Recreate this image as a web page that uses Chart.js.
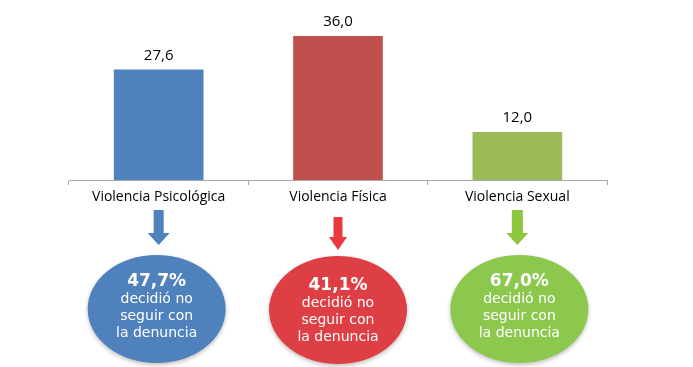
<!DOCTYPE html>
<html>
<head>
<meta charset="utf-8">
<script src="https://cdn.jsdelivr.net/npm/chart.js@4/dist/chart.umd.min.js"></script>
<style>
  html, body { margin: 0; padding: 0; background: #fff; }
  #wrap { width: 693px; height: 367px; }
</style>
</head>
<body>
<div id="wrap"><canvas id="myChart" width="693" height="367"></canvas></div>
<script>
// values
const categories = ["Violencia Psicológica", "Violencia Física", "Violencia Sexual"];
const values = [27.6, 36.0, 12.0];
const desisted = ["47,7%", "41,1%", "67,0%"];
const barColors = ["#4F81BD", "#C0504D", "#9BBB59"];
const bubbleColors = ["#4F81BD", "#DE3F45", "#8DC84E"];
const arrowColors = ["#4F81BD", "#E8393F", "#8DC63F"];

// value labels above bars + arrows and bubbles below the axis
const extras = {
    id: 'extras',
    afterDraw(chart) {
        const ctx = chart.ctx;
        const x = chart.scales.x;
        const meta = chart.getDatasetMeta(0);
        ctx.save();
        ctx.textAlign = 'center';
        ctx.textBaseline = 'middle';
        ctx.fillStyle = '#000';
        ctx.font = '15px "Open Sans"';
        meta.data.forEach((bar, i) => {
            ctx.fillText(values[i].toFixed(1).replace('.', ','), bar.x, bar.y - 14);
        });

        // arrow shapes differ a bit in the original
        const arrows = [
            { w: 10, top: 210, neck: 233, head: 11, tip: 245 },
            { w: 9, top: 217, neck: 237, head: 9, tip: 250 },
            { w: 11, top: 210, neck: 233, head: 11, tip: 245 }
        ];
        const textDy = [0, 4, 0];
        categories.forEach((c, i) => {
            const cx = x.getPixelForValue(i);
            const a = arrows[i];
            ctx.fillStyle = arrowColors[i];
            ctx.beginPath();
            ctx.moveTo(cx - a.w / 2, a.top);
            ctx.lineTo(cx + a.w / 2, a.top);
            ctx.lineTo(cx + a.w / 2, a.neck);
            ctx.lineTo(cx + a.head, a.neck);
            ctx.lineTo(cx, a.tip);
            ctx.lineTo(cx - a.head, a.neck);
            ctx.lineTo(cx - a.w / 2, a.neck);
            ctx.closePath();
            ctx.fill();

            // bubble with soft shadow
            ctx.save();
            ctx.shadowColor = 'rgba(0,0,0,0.25)';
            ctx.shadowBlur = 4;
            ctx.shadowOffsetY = 2;
            ctx.fillStyle = bubbleColors[i];
            ctx.beginPath();
            ctx.ellipse(cx + (i - 1) * 2, 309 + textDy[i] / 4, 69, 54, 0, 0, Math.PI * 2);
            ctx.fill();
            ctx.restore();

            const tx = cx + (i - 1) * 2;
            const dy = textDy[i];
            ctx.fillStyle = '#fff';
            ctx.font = 'bold 17px "DejaVu Sans"';
            ctx.fillText(desisted[i], tx, 282 + dy);
            ctx.font = '14px "DejaVu Sans"';
            ctx.fillText("decidió no", tx, 299 + dy);
            ctx.fillText("seguir con", tx, 316 + dy);
            ctx.fillText("la denuncia", tx, 333 + dy);
        });
        ctx.restore();
    }
};

const ctx = document.getElementById('myChart');
new Chart(ctx, {
    type: 'bar',
    data: {
        labels: categories,
        datasets: [{
            data: values,
            backgroundColor: barColors,
            borderWidth: 0,
            categoryPercentage: 1,
            barPercentage: 0.5
        }]
    },
    options: {
        responsive: false,
        animation: false,
        layout: {
            padding: { left: 69, right: 86, top: 0, bottom: 0 }
        },
        plugins: {
            legend: { display: false },
            tooltip: { enabled: false }
        },
        scales: {
            y: {
                display: false,
                min: 0,
                max: 45
            },
            x: {
                afterFit(scale) { scale.height = 187; },
                grid: {
                    drawOnChartArea: false,
                    tickLength: 5,
                    color: '#A6A6A6'
                },
                border: { color: '#A6A6A6', width: 1 },
                ticks: {
                    color: '#000',
                    padding: 4,
                    font: { family: 'Open Sans', size: 14 }
                }
            }
        }
    },
    plugins: [extras]
});
</script>
</body>
</html>
